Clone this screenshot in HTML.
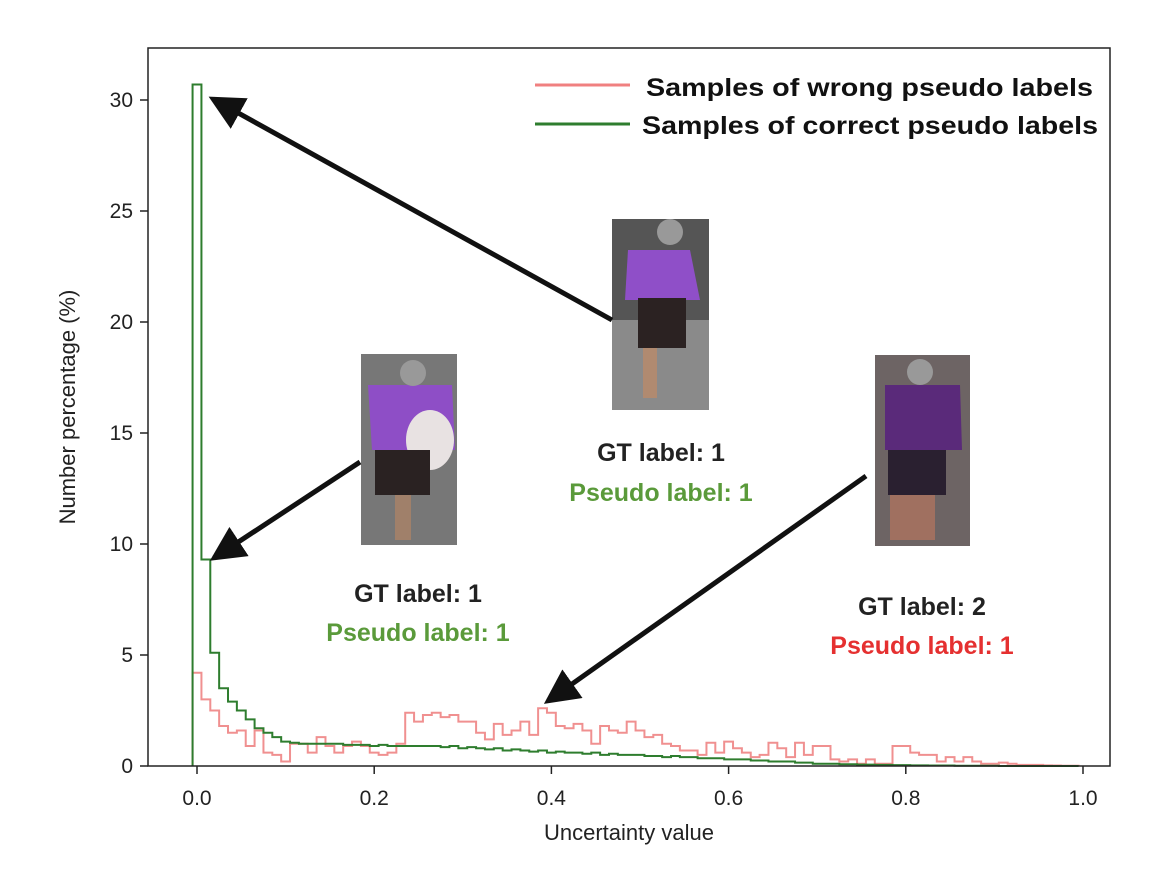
<!DOCTYPE html>
<html><head><meta charset="utf-8"><style>
body{margin:0;background:#fff;}
svg{display:block;font-family:"Liberation Sans",sans-serif;}
</style></head><body>
<svg id="chart" width="1153" height="870" viewBox="0 0 1153 870">
<defs>
<marker id="ah" markerWidth="7" markerHeight="7" refX="6" refY="3.5" orient="auto" markerUnits="strokeWidth"><path d="M0,0 L7,3.5 L0,7 z" fill="#111"/></marker>
</defs>
<rect x="0" y="0" width="1153" height="870" fill="#fff"/>
<g id="plot"></g>
<rect x="148" y="48" width="962" height="718" fill="none" stroke="#222" stroke-width="1.5"/>
<g id="xticks"></g><g id="yticks"></g>
<text x="629" y="840" font-size="22" text-anchor="middle" fill="#222">Uncertainty value</text>
<text transform="translate(75,407) rotate(-90)" font-size="22" text-anchor="middle" fill="#222">Number percentage (%)</text>

<g font-weight="bold" font-size="25" fill="#111">
<line x1="535" y1="85" x2="630" y2="85" stroke="#f08080" stroke-width="3"/>
<text x="646" y="96" textLength="447" lengthAdjust="spacingAndGlyphs">Samples of wrong pseudo labels</text>
<line x1="535" y1="124" x2="630" y2="124" stroke="#2e7d2e" stroke-width="3"/>
<text x="642" y="134" textLength="456" lengthAdjust="spacingAndGlyphs">Samples of correct pseudo labels</text>
</g>

<g>
<rect x="612" y="219" width="97" height="191" fill="#555"/>
<rect x="612" y="320" width="97" height="90" fill="#8a8a8a"/>
<path d="M628,250 L690,250 L700,300 L625,300 Z" fill="#8f4fc8"/>
<rect x="638" y="298" width="48" height="50" fill="#2b2222"/>
<rect x="643" y="348" width="14" height="50" fill="#b08a70"/>
<circle cx="670" cy="232" r="13" fill="#999"/>
</g>
<g>
<rect x="361" y="354" width="96" height="191" fill="#777"/>
<path d="M368,385 L452,385 L455,450 L372,450 Z" fill="#8e4ec6"/>
<ellipse cx="430" cy="440" rx="24" ry="30" fill="#e8e2e2"/>
<rect x="375" y="450" width="55" height="45" fill="#2a2222"/>
<rect x="395" y="495" width="16" height="45" fill="#a0806a"/>
<circle cx="413" cy="373" r="13" fill="#999"/>
</g>
<g>
<rect x="875" y="355" width="95" height="191" fill="#6d6464"/>
<path d="M885,385 L960,385 L962,450 L885,450 Z" fill="#5a2a7a"/>
<rect x="888" y="450" width="58" height="45" fill="#2a2030"/>
<rect x="890" y="495" width="45" height="45" fill="#a07060"/>
<circle cx="920" cy="372" r="13" fill="#999"/>
</g>

<g stroke="#111" stroke-width="5" fill="none">
<line x1="612" y1="320" x2="213" y2="99" marker-end="url(#ah)"/>
<line x1="360" y1="462" x2="214" y2="558" marker-end="url(#ah)"/>
<line x1="866" y1="476" x2="548" y2="701" marker-end="url(#ah)"/>
</g>

<g font-weight="bold" font-size="25" text-anchor="middle">
<text x="661" y="461" fill="#222">GT label: 1</text>
<text x="661" y="501" fill="#5a9a3a">Pseudo label: 1</text>
<text x="418" y="602" fill="#222">GT label: 1</text>
<text x="418" y="641" fill="#5a9a3a">Pseudo label: 1</text>
<text x="922" y="615" fill="#222">GT label: 2</text>
<text x="922" y="654" fill="#e53030">Pseudo label: 1</text>
</g>
</svg>
<script>
const binStart = -0.005;
const binWidth = 0.01;
const wrongValues = [4.2,3.0,2.5,1.8,1.5,1.6,0.9,1.6,0.6,0.5,0.2,1.0,1.0,0.6,1.3,0.9,0.6,0.9,1.1,0.9,0.6,0.5,0.6,1.0,2.4,2.0,2.3,2.4,2.2,2.3,2.0,2.0,1.5,1.2,1.9,1.4,1.6,2.0,1.4,2.6,2.4,1.8,1.7,1.9,1.6,1.0,1.8,1.6,1.5,2.0,1.6,1.3,1.4,1.0,0.9,0.7,0.7,0.5,1.05,0.6,1.1,0.8,0.6,0.4,0.5,1.05,0.8,0.4,1.05,0.5,0.9,0.9,0.3,0.2,0.3,0.1,0.3,0.1,0.1,0.9,0.9,0.6,0.5,0.5,0.2,0.4,0.2,0.4,0.2,0.1,0.1,0.15,0.1,0.05,0.05,0.05,0.03,0.02,0.01,0.01];
const correctValues = [30.7,9.3,5.1,3.5,2.9,2.5,2.1,1.7,1.5,1.3,1.1,1.05,1.0,1.0,1.0,1.0,1.0,0.95,0.95,0.95,0.9,0.95,0.9,0.9,0.9,0.9,0.9,0.9,0.85,0.9,0.8,0.85,0.8,0.75,0.8,0.7,0.75,0.7,0.65,0.7,0.6,0.65,0.6,0.6,0.55,0.6,0.5,0.55,0.5,0.5,0.5,0.45,0.45,0.4,0.45,0.4,0.4,0.35,0.35,0.35,0.3,0.3,0.3,0.25,0.25,0.2,0.2,0.2,0.15,0.15,0.1,0.1,0.1,0.08,0.08,0.06,0.06,0.05,0.05,0.04,0.04,0.03,0.03,0.02,0.02,0.02,0.01,0.01,0.01,0.01,0.01,0,0,0,0,0,0,0,0,0];
const xTickValues = [0.0,0.2,0.4,0.6,0.8,1.0];
const xTickLabels = ["0.0","0.2","0.4","0.6","0.8","1.0"];
const yTickValues = [0,5,10,15,20,25,30];
const yTickLabels = ["0","5","10","15","20","25","30"];

const NS = "http://www.w3.org/2000/svg";
function xScale(v){ return 197 + v*886; }
function yScale(v){ return 766 - v*22.2; }

function stepPath(vals){
  let d = "M" + xScale(binStart) + "," + yScale(0);
  vals.forEach((v,i)=>{
    const x0 = xScale(binStart + i*binWidth), x1 = xScale(binStart + (i+1)*binWidth);
    d += " L" + x0 + "," + yScale(v) + " L" + x1 + "," + yScale(v);
  });
  d += " L" + xScale(binStart + vals.length*binWidth) + "," + yScale(0);
  return d;
}
const plot = document.getElementById("plot");
const pw = document.createElementNS(NS,"path");


pw.setAttribute("d", stepPath(wrongValues));
pw.setAttribute("fill","none"); pw.setAttribute("stroke","#f09090"); pw.setAttribute("stroke-width","2");
plot.appendChild(pw);
const pc = document.createElementNS(NS,"path");


pc.setAttribute("d", stepPath(correctValues));
pc.setAttribute("fill","none"); pc.setAttribute("stroke","#2e7d2e"); pc.setAttribute("stroke-width","2");
plot.appendChild(pc);

const xt = document.getElementById("xticks");
xTickValues.forEach((v,i)=>{
  const l = document.createElementNS(NS,"line");
  
  
  l.setAttribute("x1",xScale(v)); l.setAttribute("x2",xScale(v));
  l.setAttribute("y1",766); l.setAttribute("y2",774);
  l.setAttribute("stroke","#222"); l.setAttribute("stroke-width","1.5");
  xt.appendChild(l);
  const t = document.createElementNS(NS,"text");
  
  
  t.setAttribute("x",xScale(v)); t.setAttribute("y",805);
  t.setAttribute("text-anchor","middle"); t.setAttribute("font-size","21"); t.setAttribute("fill","#222");
  t.textContent = xTickLabels[i];
  xt.appendChild(t);
});
const yt = document.getElementById("yticks");
yTickValues.forEach((v,i)=>{
  const l = document.createElementNS(NS,"line");
  
  
  l.setAttribute("x1",140); l.setAttribute("x2",148);
  l.setAttribute("y1",yScale(v)); l.setAttribute("y2",yScale(v));
  l.setAttribute("stroke","#222"); l.setAttribute("stroke-width","1.5");
  yt.appendChild(l);
  const t = document.createElementNS(NS,"text");
  
  
  t.setAttribute("x",133); t.setAttribute("y",yScale(v)+7);
  t.setAttribute("text-anchor","end"); t.setAttribute("font-size","21"); t.setAttribute("fill","#222");
  t.textContent = yTickLabels[i];
  yt.appendChild(t);
});
</script>
</body></html>
